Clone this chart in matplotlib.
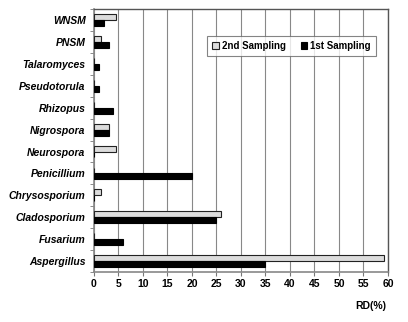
import numpy as np
import matplotlib.pyplot as plt
from matplotlib import font_manager
from matplotlib.ticker import MultipleLocator, FixedLocator

genera = ['Aspergillus', 'Fusarium', 'Cladosporium', 'Chrysosporium', 'Penicillium',
          'Neurospora', 'Nigrospora', 'Rhizopus', 'Pseudotorula', 'Talaromyces',
          'PNSM', 'WNSM']
second = [59.2, 0, 25.9, 1.5, 0, 4.5, 3.1, 0, 0, 0, 1.5, 4.5]
first = [35, 6, 25, 0, 20, 0, 3, 4, 1, 1, 3, 2]


def liberation(style, weight):
    # pick the regular-width Liberation Sans face, never the Narrow one
    for f in font_manager.fontManager.ttflist:
        if (f.name == 'Liberation Sans' and 'Narrow' not in f.fname
                and f.style == style and f.weight == weight):
            return font_manager.FontProperties(fname=f.fname)
    return font_manager.FontProperties(family='Liberation Sans', style=style, weight=weight)


bold_italic = liberation('italic', 700)
bold = liberation('normal', 700)

fig = plt.figure(figsize=(4.08, 3.22), dpi=100)
ax = fig.add_axes([0.230, 0.155, 0.721, 0.817])

y = np.arange(len(genera))
h = 0.27
ax.barh(y + h / 2, second, height=h, color='#dcdcdc', edgecolor='#222222',
        linewidth=0.8, label='2nd Sampling', zorder=3)
ax.barh(y - h / 2, first, height=h, color='black', edgecolor='black',
        linewidth=0.8, label='1st Sampling', zorder=3)

ax.set_xlim(0, 60)
ax.set_ylim(-0.5, len(genera) - 0.5)
ax.xaxis.set_major_locator(MultipleLocator(5))
ax.grid(axis='x', color='#888888', linewidth=0.8, zorder=0)

ax.set_yticks(y)
ax.set_yticklabels(genera)
for lbl in ax.get_yticklabels():
    lbl.set_fontproperties(bold_italic)
    lbl.set_fontsize(7.5)
ax.yaxis.set_minor_locator(FixedLocator(np.arange(-0.5, len(genera), 1)))
ax.tick_params(axis='y', which='major', length=0, pad=6)
ax.tick_params(axis='y', which='minor', length=3, color='#777777', direction='out')
ax.tick_params(axis='x', length=3, color='#777777', pad=2)
for lbl in ax.get_xticklabels():
    lbl.set_fontproperties(bold)
    lbl.set_fontsize(7.5)

for side in ['left', 'bottom']:
    ax.spines[side].set_color('#888888')
    ax.spines[side].set_linewidth(1.2)
for side in ['top', 'right']:
    ax.spines[side].set_color('#555555')
    ax.spines[side].set_linewidth(1.0)

leg_font = bold.copy()
leg_font.set_size(7)
leg = ax.legend(loc='upper right', bbox_to_anchor=(0.975, 0.915), ncol=2,
                prop=leg_font,
                handlelength=0.7, handleheight=0.7, handletextpad=0.3,
                columnspacing=1.5, borderpad=0.5, frameon=True, fancybox=False)
leg.get_frame().set_edgecolor('#666666')
leg.get_frame().set_linewidth(0.8)

fig.text(0.946, 0.050, 'RD(%)', fontproperties=bold, fontsize=7.5, ha='right', va='center')

fig.savefig('out.png', dpi=100)
